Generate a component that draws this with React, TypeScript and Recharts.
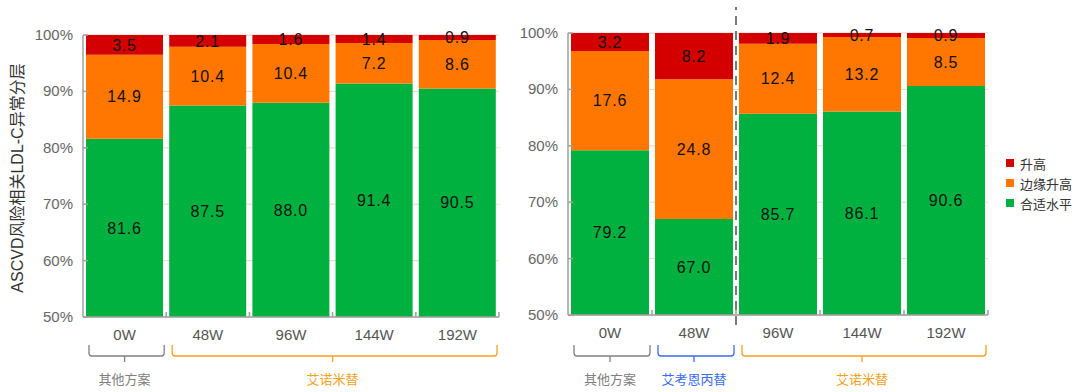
import { Bar, BarChart, CartesianGrid, LabelList, Legend, XAxis, YAxis } from 'recharts';

const leftWeeks = ['0W', '48W', '96W', '144W', '192W'];
const leftRegimen = ['其他方案', '艾诺米替', '艾诺米替', '艾诺米替', '艾诺米替'];
const leftNormal = [81.6, 87.5, 88.0, 91.4, 90.5];
const leftBorderline = [14.9, 10.4, 10.4, 7.2, 8.6];
const leftHigh = [3.5, 2.1, 1.6, 1.4, 0.9];

const rightWeeks = ['0W', '48W', '96W', '144W', '192W'];
const rightRegimen = ['其他方案', '艾考恩丙替', '艾诺米替', '艾诺米替', '艾诺米替'];
const rightNormal = [79.2, 67.0, 85.7, 86.1, 90.6];
const rightBorderline = [17.6, 24.8, 12.4, 13.2, 8.5];
const rightHigh = [3.2, 8.2, 1.9, 0.7, 0.9];

const yTicks = [50, 60, 70, 80, 90, 100];
const seriesKeys = ['normal', 'borderline', 'high'];
const seriesNames = ['合适水平', '边缘升高', '升高'];
const seriesColors = ['#00b140', '#ff7700', '#d40000'];
const regimenColors: Record<string, string> = {
    其他方案: '#808080',
    艾考恩丙替: '#3a6cf4',
    艾诺米替: '#f6a21c',
};
const yTitle = 'ASCVD风险相关LDL-C异常分层';

const FONT = '"Liberation Sans", "Noto Sans CJK SC", sans-serif';
const AXIS = '#a0a0a0';

function buildRows(weeks: string[], regimen: string[], normal: number[], border: number[], high: number[]) {
    return weeks.map((week, i) => ({
        week,
        regimen: regimen[i],
        normal: normal[i],
        borderline: border[i],
        high: high[i],
    }));
}

const leftRows = buildRows(leftWeeks, leftRegimen, leftNormal, leftBorderline, leftHigh);
const rightRows = buildRows(rightWeeks, rightRegimen, rightNormal, rightBorderline, rightHigh);

function PercentTick(props: any) {
    const { x = 0, y = 0, payload } = props;
    return (
        <g>
            <line x1={x} x2={x + 5} y1={y} y2={y} stroke={AXIS} strokeWidth={1.5} />
            <text x={x - 10} y={y} dy={5} textAnchor="end" fill="#666" fontSize={15}>
                {payload.value}%
            </text>
        </g>
    );
}

function WeekTick(props: any) {
    const { x = 0, y = 0, payload, index = 0, groups, hookDrop, split } = props;
    const half = payload?.offset ?? 42;
    const band = half * 2;
    const group: string = groups[index];
    const isFirst = index === 0 || groups[index - 1] !== group;
    let n = 0;
    while (groups[index + n] === group) n++;

    const left = x - half + 6;
    const right = x - half + n * band - 2;
    const cx = x - half + (n * band) / 2;
    const top = y + hookDrop;
    const bot = top + 11;
    const r = 3;
    const color = regimenColors[group];

    return (
        <g>
            <line x1={x + half} x2={x + half} y1={y} y2={y - 5} stroke={AXIS} strokeWidth={1.5} />
            {split === index && (
                <line
                    x1={x + half}
                    x2={x + half}
                    y1={y + 10}
                    y2={7}
                    stroke="#7a7a7a"
                    strokeWidth={2}
                    strokeDasharray="9 6"
                />
            )}
            <text x={x} y={y + 23} textAnchor="middle" fill="#555" fontSize={15}>
                {payload.value}
            </text>
            {isFirst && (
                <g>
                    <path
                        d={`M${left} ${top} V${bot - r} Q${left} ${bot} ${left + r} ${bot} H${right - r} Q${right} ${bot} ${right} ${bot - r} V${top}`}
                        fill="none"
                        stroke={color}
                        strokeWidth={1.3}
                    />
                    <line x1={cx} x2={cx} y1={bot} y2={bot + 6} stroke={color} strokeWidth={1.3} />
                    <text x={cx} y={bot + 28} textAnchor="middle" fill={color} fontSize={13}>
                        {group}
                    </text>
                </g>
            )}
        </g>
    );
}

function renderLegend() {
    return (
        <div style={{ fontFamily: FONT, fontSize: 13, color: '#333' }}>
            {[2, 1, 0].map((i) => (
                <div key={seriesKeys[i]} style={{ display: 'flex', alignItems: 'center', height: 20 }}>
                    <span
                        style={{
                            display: 'inline-block',
                            width: 8,
                            height: 8,
                            background: seriesColors[i],
                            marginRight: 6,
                        }}
                    />
                    <span>{seriesNames[i]}</span>
                </div>
            ))}
        </div>
    );
}

interface StackProps {
    rows: ReturnType<typeof buildRows>;
    width: number;
    top: number;
    right: number;
    axisWidth: number;
    xHeight: number;
    hookDrop: number;
    split?: number;
    legend?: boolean;
}

function StackChart({ rows, width, top, right, axisWidth, xHeight, hookDrop, split, legend }: StackProps) {
    const groups = rows.map((r) => r.regimen);
    return (
        <BarChart
            width={width}
            height={392}
            data={rows}
            margin={{ top, right, bottom: 0, left: 0 }}
            barCategoryGap={3}
        >
            <CartesianGrid vertical={false} stroke="#f8cfc3" strokeWidth={1} />
            <YAxis
                type="number"
                domain={[50, 100]}
                ticks={yTicks}
                allowDataOverflow
                width={axisWidth}
                axisLine={{ stroke: AXIS, strokeWidth: 1.5 }}
                tickLine={false}
                tickSize={0}
                tickMargin={0}
                tick={<PercentTick />}
                interval={0}
            />
            {seriesKeys.map((key, i) => (
                <Bar
                    key={key}
                    dataKey={key}
                    name={seriesNames[i]}
                    stackId="s"
                    fill={seriesColors[i]}
                    isAnimationActive={false}
                >
                    <LabelList
                        dataKey={key}
                        position="center"
                        fill="#111"
                        fontSize={16}
                        letterSpacing={0.8}
                        formatter={(v: any) => Number(v).toFixed(1)}
                    />
                </Bar>
            ))}
            <XAxis
                dataKey="week"
                height={xHeight}
                axisLine={{ stroke: AXIS, strokeWidth: 1.5 }}
                tickLine={false}
                tickSize={0}
                tickMargin={0}
                interval={0}
                tick={(p: any) => <WeekTick {...p} groups={groups} hookDrop={hookDrop} split={split} />}
            />
            {legend && (
                <Legend
                    layout="vertical"
                    align="center"
                    verticalAlign="middle"
                    content={renderLegend}
                    wrapperStyle={{ left: 496, top: 153, width: 80 }}
                />
            )}
        </BarChart>
    );
}

export default function App() {
    return (
        <div
            style={{
                position: 'absolute',
                left: 0,
                top: 0,
                width: 1080,
                height: 392,
                background: '#fff',
                fontFamily: FONT,
            }}
        >
            <div style={{ position: 'absolute', left: 0, top: 0 }}>
                <StackChart rows={leftRows} width={511} top={35} right={12} axisWidth={83} xHeight={75} hookDrop={28} />
            </div>
            <div style={{ position: 'absolute', left: 510, top: 0 }}>
                <StackChart
                    rows={rightRows}
                    width={570}
                    top={33}
                    right={92}
                    axisWidth={58}
                    xHeight={77}
                    hookDrop={30}
                    split={1}
                    legend
                />
            </div>
            <svg style={{ position: 'absolute', left: 0, top: 0 }} width={40} height={392}>
                <text
                    transform="translate(17,178) rotate(-90)"
                    textAnchor="middle"
                    dominantBaseline="central"
                    fontSize={16}
                    fill="#333"
                >
                    {yTitle}
                </text>
            </svg>
        </div>
    );
}
